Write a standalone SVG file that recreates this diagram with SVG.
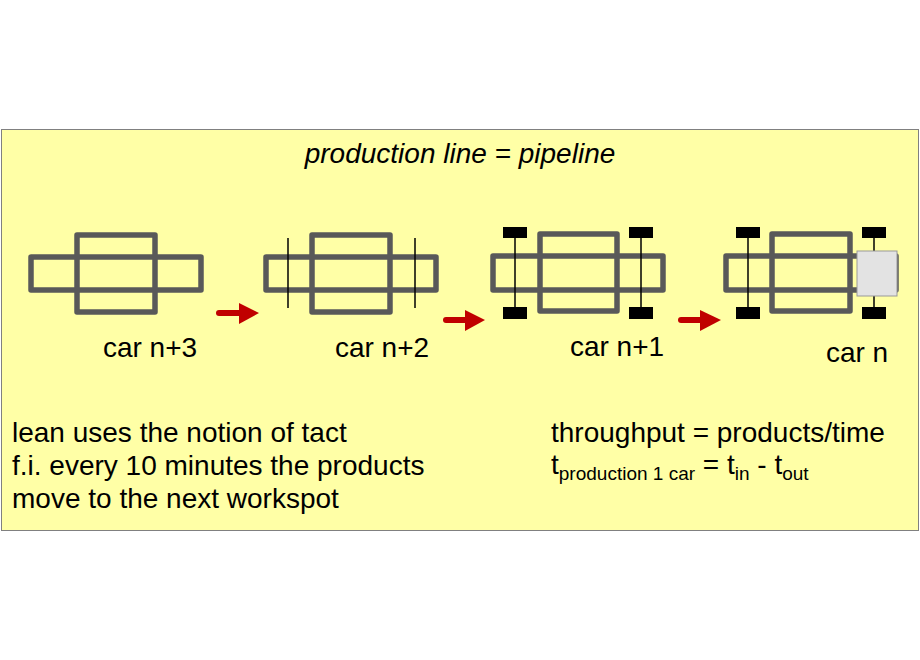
<svg xmlns="http://www.w3.org/2000/svg" width="920" height="660" viewBox="0 0 920 660">
<style>
.o{fill:none;stroke:#595959;stroke-width:5.5;stroke-linejoin:round}
.ax{stroke:#000;stroke-width:1.5}
.w{fill:#000}
.t{font-family:"Liberation Sans",Arial,sans-serif;font-size:28px;fill:#000}
.s{font-size:19px}
.a{fill:none;stroke:#c00000;stroke-width:6;stroke-linecap:round}
.h{fill:#c00000}
</style>
<rect x="1.5" y="129.5" width="917" height="401" fill="#ffffa6" stroke="#808080"/>
<text class="t" x="460" y="163" text-anchor="middle" font-style="italic">production line = pipeline</text>
<g id="car3">
<rect class="o" x="31" y="257" width="170" height="33"/>
<rect class="o" x="77" y="235" width="78" height="77"/>
<text class="t" x="150" y="357" text-anchor="middle">car n+3</text>
</g>
<g id="car2">
<rect class="o" x="266" y="257" width="170" height="33"/>
<rect class="o" x="312" y="235" width="78" height="77"/>
<line class="ax" x1="288" y1="238" x2="288" y2="308"/>
<line class="ax" x1="415" y1="238" x2="415" y2="308"/>
<text class="t" x="382" y="357" text-anchor="middle">car n+2</text>
</g>
<g id="car1">
<rect class="o" x="493" y="256" width="170" height="34"/>
<rect class="o" x="540" y="234" width="77" height="77"/>
<line class="ax" x1="515" y1="232" x2="515" y2="313"/>
<line class="ax" x1="641" y1="232" x2="641" y2="313"/>
<rect class="w" x="503" y="227" width="24" height="11"/>
<rect class="w" x="503" y="307" width="24" height="12"/>
<rect class="w" x="629" y="227" width="24" height="11"/>
<rect class="w" x="629" y="307" width="24" height="12"/>
<text class="t" x="617" y="356" text-anchor="middle">car n+1</text>
</g>
<g id="car0">
<rect class="o" x="726" y="256" width="170" height="34"/>
<rect class="o" x="772" y="234" width="78" height="77"/>
<line class="ax" x1="748" y1="232" x2="748" y2="313"/>
<line class="ax" x1="874" y1="232" x2="874" y2="313"/>
<rect class="w" x="736" y="227" width="24" height="11"/>
<rect class="w" x="736" y="307" width="24" height="12"/>
<rect class="w" x="862" y="227" width="24" height="11"/>
<rect class="w" x="862" y="307" width="24" height="12"/>
<rect x="857" y="251" width="40" height="45" fill="#e3e3e3" stroke="#999"/>
<text class="t" x="857" y="362" text-anchor="middle">car n</text>
</g>
<g id="connectors">
<line class="a" x1="219" y1="313" x2="242" y2="313"/>
<polygon class="h" points="239,303 259,313 239,324"/>
<line class="a" x1="446" y1="320" x2="468" y2="320"/>
<polygon class="h" points="465,310 485,320 465,331"/>
<line class="a" x1="681" y1="320" x2="703" y2="320"/>
<polygon class="h" points="700,310 721,320 700,331"/>
</g>
<text class="t" x="12" y="442">lean uses the notion of tact</text>
<text class="t" x="12" y="475">f.i. every 10 minutes the products</text>
<text class="t" x="12" y="508">move to the next workspot</text>
<text class="t" x="551" y="442">throughput = products/time</text>
<text class="t" x="551" y="474">t<tspan class="s" dy="6">production 1 car</tspan><tspan dy="-6"> = t</tspan><tspan class="s" dy="6">in</tspan><tspan dy="-6"> - t</tspan><tspan class="s" dy="6">out</tspan></text>
</svg>
